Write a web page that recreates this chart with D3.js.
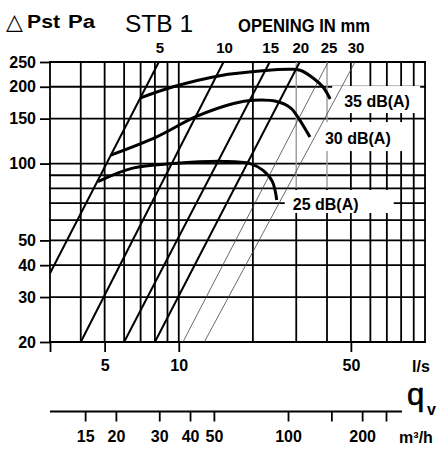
<!DOCTYPE html>
<html>
<head>
<meta charset="utf-8">
<script src="https://cdn.jsdelivr.net/npm/d3@7"></script>
<style>
  body { margin: 0; background: #fff; }
  svg text { font-family: "Liberation Sans", Arial, sans-serif; fill: #000; }
</style>
</head>
<body>
<div id="chart"></div>
<script>
// grid and tick values
var pressureGrid = [20, 30, 40, 50, 60, 70, 80, 90, 100, 150, 200, 250];
var pressureLabels = [20, 30, 40, 50, 100, 150, 200, 250];
var flowGrid = [3, 4, 5, 6, 7, 8, 9, 10, 20, 30, 40, 50, 60, 70, 80, 90, 100];
var flowTicks = [3, 5, 10, 50];
var flowLabels = [5, 10, 50];
var fadedFlow = [30, 40];      // these grid lines are grey above 80 Pa
var fadedAbove = 80;
var m3hTicks = [15, 20, 30, 40, 50, 100, 150, 200, 250];
var m3hLabels = [15, 20, 30, 40, 50, 100, 200];

// damper opening lines (mm): start / end point of each line
var openingLabels = ["5", "10", "15", "20", "25", "30"];
var openingQ0 = [3, 4, 6, 8, 10.4, 12.7];
var openingP0 = [37.2, 20, 20, 20, 20, 20];
var openingQ1 = [8.3, 15.2, 23.4, 31, 40.4, 52];
var openingP1 = [250, 250, 250, 250, 250, 250];

// sound level curves
var curveLabels = ["35 dB(A)", "30 dB(A)", "25 dB(A)"];
var q35 = [7.0, 9.5, 14.7, 22, 28.3, 31.1, 35.2, 38.6, 41.2];
var p35 = [181, 200, 221, 231, 234, 232, 216, 199, 179];
var q30 = [5.3, 8.1, 11.8, 16.7, 20.1, 25, 28.5, 31, 34.1];
var p30 = [108, 127, 153, 172, 177, 175, 165, 148, 127];
var q25 = [4.7, 6.5, 9.5, 15.2, 19.5, 22, 24, 25];
var p25 = [85, 96, 100, 102, 100, 94, 85, 72];

var W = 439, H = 449;
var plot = { left: 50, right: 425, top: 62, bottom: 342 };

var x = d3.scaleLog().domain([3, 100]).range([plot.left, plot.right]);
var y = d3.scaleLog().domain([20, 250]).range([plot.bottom, plot.top]);
// same flow in m3/h (1 l/s = 3.6 m3/h)
var xm = d3.scaleLog().domain([3 * 3.6, 100 * 3.6]).range([plot.left, plot.right]);

var svg = d3.select("#chart").append("svg")
    .attr("width", W)
    .attr("height", H)
    .style("background", "#fff");

var gridW = 1.8;

// horizontal grid
svg.append("g").selectAll("line")
    .data(pressureGrid)
    .enter().append("line")
    .attr("x1", plot.left).attr("x2", plot.right)
    .attr("y1", function (d) { return y(d); })
    .attr("y2", function (d) { return y(d); })
    .attr("stroke", "#000")
    .attr("stroke-width", gridW)
    .attr("stroke-linecap", "square");

// vertical grid
svg.append("g").selectAll("line")
    .data(flowGrid)
    .enter().append("line")
    .attr("x1", function (d) { return x(d); })
    .attr("x2", function (d) { return x(d); })
    .attr("y1", function (d) { return fadedFlow.indexOf(d) >= 0 ? y(fadedAbove) : plot.top; })
    .attr("y2", plot.bottom)
    .attr("stroke", "#000")
    .attr("stroke-width", gridW)
    .attr("stroke-linecap", "square");

svg.append("g").selectAll("line")
    .data(fadedFlow)
    .enter().append("line")
    .attr("x1", function (d) { return x(d); })
    .attr("x2", function (d) { return x(d); })
    .attr("y1", plot.top)
    .attr("y2", y(fadedAbove))
    .attr("stroke", "#999")
    .attr("stroke-width", 1.4);

// y axis ticks + labels
var yAxis = svg.append("g")
    .attr("transform", "translate(" + plot.left + ",0)")
    .call(d3.axisLeft(y).tickValues(pressureLabels).tickSize(10).tickPadding(4).tickFormat(d3.format("d")));
yAxis.select(".domain").remove();

// x axis (l/s)
var xAxis = svg.append("g")
    .attr("transform", "translate(0," + plot.bottom + ")")
    .call(d3.axisBottom(x).tickValues(flowTicks).tickSize(10).tickPadding(8)
        .tickFormat(function (d) { return flowLabels.indexOf(d) >= 0 ? d : ""; }));
xAxis.select(".domain").remove();

// second flow axis (m3/h)
var mY = 411.5;
var mAxis = svg.append("g")
    .attr("transform", "translate(0," + mY + ")")
    .call(d3.axisBottom(xm).tickValues(m3hTicks).tickSize(10).tickPadding(9)
        .tickFormat(function (d) { return m3hLabels.indexOf(d) >= 0 ? d : ""; }));
mAxis.select(".domain").remove();
svg.append("line")
    .attr("x1", plot.left).attr("x2", 402)
    .attr("y1", mY).attr("y2", mY)
    .attr("stroke", "#000").attr("stroke-width", 1.8);

svg.selectAll(".tick line").attr("stroke", "#000").attr("stroke-width", gridW);
svg.selectAll(".tick text")
    .style("font-family", "'Liberation Sans', Arial, sans-serif")
    .style("font-size", "16px")
    .style("font-weight", "bold")
    .attr("fill", "#000");

// white boxes behind the curve labels (they blank out the grid)
var labelOffset = [[14, 2], [15, 1], [16, 4]];
var labelBox = [[-12, -15, 88, 27], [-7, -16, 89, 29], [-8, -14, 109, 23]];
var curves = [[q35, p35], [q30, p30], [q25, p25]];

curves.forEach(function (c, i) {
    var n = c[0].length - 1;
    var tx = x(c[0][n]) + labelOffset[i][0];
    var ty = y(c[1][n]) + labelOffset[i][1];
    svg.append("rect")
        .attr("x", tx + labelBox[i][0])
        .attr("y", ty + labelBox[i][1])
        .attr("width", labelBox[i][2])
        .attr("height", labelBox[i][3])
        .attr("fill", "#fff");
});

// opening lines
openingLabels.forEach(function (lab, i) {
    var thin = i >= 4;
    svg.append("line")
        .attr("x1", x(openingQ0[i])).attr("y1", y(openingP0[i]))
        .attr("x2", x(openingQ1[i])).attr("y2", y(openingP1[i]))
        .attr("stroke", thin ? "#444" : "#000")
        .attr("stroke-width", thin ? 0.8 : 2);
    svg.append("text")
        .attr("x", x(openingQ1[i]) + 1)
        .attr("y", 53)
        .attr("text-anchor", "middle")
        .style("font-size", "15px")
        .style("font-weight", "bold")
        .text(lab);
});

// sound level curves
var line = d3.line()
    .x(function (d) { return x(d[0]); })
    .y(function (d) { return y(d[1]); })
    .curve(d3.curveCatmullRom.alpha(0.5));

curves.forEach(function (c, i) {
    var pts = c[0].map(function (q, k) { return [q, c[1][k]]; });
    svg.append("path")
        .attr("d", line(pts))
        .attr("fill", "none")
        .attr("stroke", "#000")
        .attr("stroke-width", 3);
    var n = c[0].length - 1;
    svg.append("text")
        .attr("x", x(c[0][n]) + labelOffset[i][0])
        .attr("y", y(c[1][n]) + labelOffset[i][1])
        .attr("dy", "0.36em")
        .style("font-size", "16px")
        .style("font-weight", "bold")
        .text(curveLabels[i]);
});

// titles
svg.append("text").attr("x", 6).attr("y", 29)
    .style("font-family", "'DejaVu Sans', sans-serif")
    .style("font-size", "22px")
    .text("\u25B3");
svg.append("text").attr("x", 27).attr("y", 28)
    .attr("textLength", 33).attr("lengthAdjust", "spacingAndGlyphs")
    .style("font-size", "18px").style("font-weight", "bold")
    .text("Pst");
svg.append("text").attr("x", 68).attr("y", 28)
    .attr("textLength", 27).attr("lengthAdjust", "spacingAndGlyphs")
    .style("font-size", "18px").style("font-weight", "bold")
    .text("Pa");
svg.append("text").attr("x", 125).attr("y", 32)
    .attr("textLength", 68).attr("lengthAdjust", "spacingAndGlyphs")
    .style("font-size", "24px")
    .text("STB 1");
svg.append("text").attr("x", 238).attr("y", 31.5)
    .attr("textLength", 132).attr("lengthAdjust", "spacingAndGlyphs")
    .style("font-size", "18px").style("font-weight", "bold")
    .text("OPENING IN mm");

// unit labels
svg.append("text").attr("x", 421).attr("y", 372)
    .attr("text-anchor", "middle")
    .style("font-size", "16px").style("font-weight", "bold")
    .text("l/s");
svg.append("text").attr("x", 407).attr("y", 405)
    .style("font-size", "31px")
    .style("stroke", "#000").style("stroke-width", 0.6)
    .text("q");
svg.append("text").attr("x", 427).attr("y", 415)
    .style("font-size", "16px")
    .style("font-weight", "bold")
    .text("v");
svg.append("text").attr("x", 416).attr("y", 443)
    .attr("text-anchor", "middle")
    .style("font-size", "16px").style("font-weight", "bold")
    .text("m\u00B3/h");
</script>
</body>
</html>
